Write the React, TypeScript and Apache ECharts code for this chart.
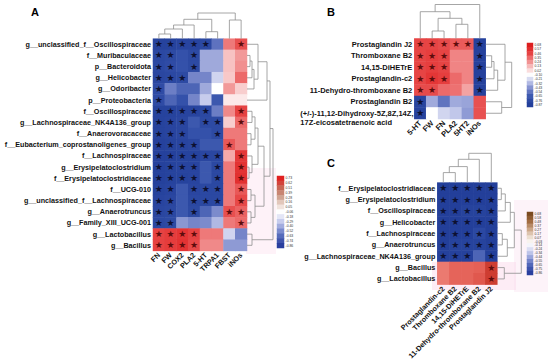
import React, { useEffect, useRef } from 'react';
import * as echarts from 'echarts';

const FONT = 'Liberation Sans, Arial, sans-serif';

// ---------- Panel A ----------
const aRows = [
  'g__unclassified_f__Oscillospiraceae', 'f__Muribaculaceae', 'p__Bacteroidota', 'g__Helicobacter',
  'g__Odoribacter', 'p__Proteobacteria', 'f__Oscillospiraceae', 'g__Lachnospiraceae_NK4A136_group',
  'f__Anaerovoracaceae', 'f__Eubacterium_coprostanoligenes_group', 'f__Lachnospiraceae',
  'g__Erysipelatoclostridium', 'f__Erysipelatoclostridiaceae', 'f__UCG-010',
  'g__unclassified_f__Lachnospiraceae', 'g__Anaerotruncus', 'g__Family_XIII_UCG-001',
  'g__Lactobacillus', 'g__Bacillus',
];
const aCols = ['FN', 'FW', 'COX2', 'PLA2', '5-HT', 'TRPA1', 'FBST', 'iNOs'];
const aValues = [
  [-0.82, -0.82, -0.80, -0.80, -0.76, -0.50, 0.45, 0.58],
  [-0.76, -0.74, -0.66, -0.74, -0.30, -0.30, 0.22, 0.35],
  [-0.76, -0.72, -0.66, -0.74, -0.30, -0.30, 0.22, 0.38],
  [-0.78, -0.76, -0.74, -0.42, -0.42, -0.15, 0.20, 0.50],
  [-0.72, -0.45, -0.56, -0.56, -0.30, 0.00, 0.35, 0.18],
  [-0.72, -0.56, -0.66, -0.42, -0.18, -0.62, 0.08, 0.08],
  [-0.82, -0.82, -0.80, -0.80, -0.76, -0.45, 0.40, 0.62],
  [-0.82, -0.80, -0.78, -0.62, -0.74, -0.74, 0.18, 0.50],
  [-0.82, -0.80, -0.78, -0.66, -0.66, -0.74, 0.45, 0.45],
  [-0.84, -0.82, -0.80, -0.78, -0.62, -0.62, 0.55, 0.45],
  [-0.84, -0.84, -0.82, -0.82, -0.78, -0.78, 0.30, 0.66],
  [-0.84, -0.82, -0.80, -0.80, -0.62, -0.76, 0.45, 0.70],
  [-0.84, -0.82, -0.82, -0.80, -0.62, -0.76, 0.45, 0.72],
  [-0.82, -0.80, -0.62, -0.78, -0.76, -0.76, 0.45, 0.55],
  [-0.80, -0.78, -0.62, -0.76, -0.76, -0.76, 0.45, 0.60],
  [-0.78, -0.76, -0.62, -0.74, -0.56, -0.40, 0.58, 0.52],
  [-0.76, -0.74, -0.36, -0.42, -0.40, -0.25, 0.45, 0.50],
  [0.62, 0.64, 0.68, 0.62, 0.45, 0.45, -0.15, -0.42],
  [0.62, 0.64, 0.70, 0.60, 0.40, 0.40, -0.35, -0.35],
];
const aStars = [
  '11111001', '11010000', '11010000', '11100000', '10000000', '10000000', '11111001',
  '11101101', '11100100', '11110010', '11111101', '11110101', '11110101', '11011101',
  '11011101', '11010011', '11000001', '11110000', '11110000',
];
// merges: [left node, right node, height]
const aRowMerges = [
  [1, 2, 3], [19, 3, 5], [20, 4, 7], [0, 21, 11], [22, 5, 20],
  [6, 7, 5], [8, 9, 4], [24, 25, 8], [11, 12, 2], [10, 27, 5], [26, 28, 11],
  [13, 14, 4], [15, 16, 4], [30, 31, 8], [29, 32, 17], [23, 33, 23], [17, 18, 5], [34, 35, 26],
];
const aColMerges = [[0, 1, 4.7], [8, 2, 9.7], [9, 3, 13.7], [4, 5, 7], [10, 11, 19.4], [6, 7, 18.7], [12, 13, 25.7]];
const aBarLabels = ['0.73', '0.62', '0.51', '0.39', '0.28', '0.16', '0.05', '-0.06', '-0.18', '-0.29', '-0.40', '-0.52', '-0.63', '-0.74', '-0.86'];

// ---------- Panel B ----------
const bRows = [
  'Prostaglandin J2', 'Thromboxane B2', '14,15-DiHETrE', 'Prostaglandin-c2',
  '11-Dehydro-thromboxane B2', 'Prostaglandin B2',
  '(+/-)-11,12-Dihydroxy-5Z,8Z,14Z,17Z-eicosatetraenoic acid',
];
const bCols = ['5-HT', 'FW', 'FN', 'PLA2', '5HT2', 'iNOs'];
const bValues = [
  [0.62, 0.62, 0.60, 0.55, 0.55, -0.85],
  [0.62, 0.64, 0.62, 0.42, 0.42, -0.85],
  [0.62, 0.64, 0.62, 0.42, 0.42, -0.85],
  [0.62, 0.68, 0.64, 0.50, 0.42, -0.85],
  [0.60, 0.60, 0.50, 0.48, 0.32, -0.85],
  [-0.80, -0.30, -0.50, -0.30, -0.32, 0.58],
  [-0.82, 0.00, -0.15, -0.20, -0.35, 0.58],
];
const bStars = ['111111', '111001', '111001', '111001', '110001', '100000', '100000'];
const bRowMerges = [[1, 2, 6], [7, 3, 8.3], [8, 4, 12], [0, 9, 19.3], [5, 6, 16], [10, 11, 26]];
const bColMerges = [[1, 2, 7.5], [3, 4, 14.2], [6, 7, 20.2], [0, 8, 26.8], [9, 5, 34]];
const bBarLabels = ['0.68', '0.57', '0.46', '0.35', '0.24', '0.13', '0.02', '-0.10', '-0.21', '-0.32', '-0.43', '-0.54', '-0.65', '-0.76', '-0.87'];

// ---------- Panel C ----------
const cRows = [
  'f__Erysipelatoclostridiaceae', 'g__Erysipelatoclostridium', 'f__Oscillospiraceae', 'g__Helicobacter',
  'f__Lachnospiraceae', 'g__Anaerotruncus', 'g__Lachnospiraceae_NK4A136_group', 'g__Bacillus', 'g__Lactobacillus',
];
const cCols = ['Prostaglandin-c2', 'Thromboxane B2', '14,15-DiHETrE', '11-Dehydro-thromboxane B2', 'Prostaglandin J2'];
const cValues = [
  [-0.86, -0.86, -0.86, -0.86, -0.86],
  [-0.86, -0.86, -0.86, -0.86, -0.86],
  [-0.86, -0.86, -0.82, -0.82, -0.86],
  [-0.86, -0.86, -0.86, -0.86, -0.86],
  [-0.86, -0.86, -0.86, -0.76, -0.86],
  [-0.86, -0.82, -0.82, -0.82, -0.86],
  [-0.84, -0.84, -0.84, -0.56, -0.86],
  [0.50, 0.60, 0.60, 0.62, 0.84],
  [0.50, 0.60, 0.60, 0.66, 0.84],
];
const cStars = ['11111', '11111', '11111', '11111', '11111', '11111', '11101', '00001', '00001'];
const cRowMerges = [[0, 1, 4], [9, 2, 8], [10, 3, 13], [4, 5, 5], [12, 6, 10], [11, 13, 17], [7, 8, 7], [14, 15, 24]];
const cColMerges = [[0, 1, 10], [5, 2, 16], [6, 3, 23.3], [7, 4, 29.3]];
const cBarLabels = ['0.68', '0.58', '0.48', '0.37', '0.27', '0.17', '0.07', '-0.03', '-0.14', '-0.24', '-0.34', '-0.44', '-0.55', '-0.65', '-0.75', '-0.86'];

// ---------- palettes ----------
const palRB = ['#233f9a', '#3552ab', '#7282c8', '#bcc2e8', '#ffffff', '#f7c4c4', '#ef7f7f', '#e53a3a', '#dc1e1e'];
const palC = ['#233f9a', '#3552ab', '#7282c8', '#bcc2e8', '#ffffff', '#f8c8c0', '#f08a80', '#e25a50', '#cc3a2e'];
const palBarA = ['#2a3f9e', '#4c62b6', '#8d9ad6', '#d0d4f0', '#ffffff', '#e6cfc4', '#c89480', '#c86050', '#e02020'];
const palBarC = ['#2a3f9e', '#4c62b6', '#8d9ad6', '#d0d4f0', '#ffffff', '#e8d8c8', '#c8a080', '#a06a40', '#7a4a20'];

function dendro(n: number, merges: number[][], horizontal: boolean) {
  const pos: number[] = [];
  const h: number[] = [];
  for (let i = 0; i < n; i++) { pos[i] = i + 0.5; h[i] = 0; }
  const segs: number[][][] = [];
  merges.forEach(([a, b, ht], k) => {
    const pts = [[pos[a], h[a]], [pos[a], ht], [pos[b], ht], [pos[b], h[b]]];
    segs.push(horizontal ? pts.map(([p, q]) => [q, p]) : pts);
    pos[n + k] = (pos[a] + pos[b]) / 2;
    h[n + k] = ht;
  });
  return segs.map((s) => ({ coords: s }));
}

function heatData(vals: number[][], stars: string[]) {
  const out: any[] = [];
  vals.forEach((row, r) => row.forEach((v, c) => {
    out.push({ value: [c, r, v], star: stars[r][c] === '1', label: { color: v > 0 ? '#5e0c0c' : '#0d1030' } });
  }));
  return out;
}

const labelBase = { fontSize: 7.2, fontWeight: 'bold' as const, color: '#111', fontFamily: FONT };

function catX(grid: number, data: string[], fs = 7.2) {
  return {
    gridIndex: grid, type: 'category', data,
    axisLine: { show: false }, axisTick: { show: false }, splitLine: { show: false },
    axisLabel: { ...labelBase, fontSize: fs, rotate: 45, interval: 0, margin: 3 },
  };
}
function catY(grid: number, data: string[], fs = 7.2, extra: any = {}) {
  return {
    gridIndex: grid, type: 'category', data, inverse: true,
    axisLine: { show: false }, axisTick: { show: false }, splitLine: { show: false },
    axisLabel: { ...labelBase, fontSize: fs, interval: 0, margin: 2, ...extra },
  };
}
function barY(grid: number, data: string[]) {
  return {
    gridIndex: grid, type: 'category', data, inverse: true, position: 'right',
    axisLine: { show: false }, axisTick: { show: false },
    axisLabel: { fontSize: 3.4, color: '#333', interval: 0, margin: 1.5, fontFamily: FONT },
  };
}
function hiddenCat(grid: number) {
  return { gridIndex: grid, type: 'category', data: [''], show: false };
}
function valAx(grid: number, min: number, max: number, inverse = false) {
  return { gridIndex: grid, type: 'value', min, max, inverse, show: false };
}

export default function App() {
  const ref = useRef<HTMLDivElement>(null);
  useEffect(() => {
    if (!ref.current) return;
    const chart = echarts.init(ref.current, undefined, { renderer: 'svg' });
    const starLabel = {
      show: true, fontSize: 9, fontFamily: 'DejaVu Sans',
      formatter: (p: any) => (p.data && p.data.star ? '\u2605' : ''),
    };
    const dendStyle = { color: '#8f8f8f', width: 0.8, opacity: 1 };
    const grids = [
      { left: 153, top: 38.7, width: 94, height: 212.2 },      // 0 heat A
      { left: 414.3, top: 38.5, width: 71.4, height: 80.5 },   // 1 heat B
      { left: 437.3, top: 182.6, width: 60, height: 102 },     // 2 heat C
      { left: 277, top: 176, width: 7, height: 72 },           // 3 bar A
      { left: 527, top: 43, width: 6, height: 64 },            // 4 bar B
      { left: 527, top: 212, width: 6, height: 63 },           // 5 bar C
      { left: 153, top: 12, width: 94, height: 26.7 },         // 6 col dend A
      { left: 247, top: 38.7, width: 27, height: 212.2 },      // 7 row dend A
      { left: 414.3, top: 4, width: 71.4, height: 34.5 },      // 8 col dend B
      { left: 485.7, top: 38.5, width: 27, height: 80.5 },     // 9 row dend B
      { left: 437.3, top: 152, width: 60, height: 30.6 },      // 10 col dend C
      { left: 497.3, top: 182.6, width: 26, height: 102 },     // 11 row dend C
    ];
    const longLabel = (v: string) => {
      if (v.startsWith('(+/-)')) {
        const i = v.indexOf('17Z');
        return `{l| }\n{l|${v.slice(0, i)}}\n{l|${v.slice(i)}}`;
      }
      return v;
    };
    const option: any = {
      animation: false,
      backgroundColor: '#ffffff',
      grid: grids,
      xAxis: [
        catX(0, aCols), catX(1, bCols, 7.5), catX(2, cCols),
        hiddenCat(3), hiddenCat(4), hiddenCat(5),
        valAx(6, 0, 8), valAx(7, 0, 27), valAx(8, 0, 6), valAx(9, 0, 27), valAx(10, 0, 5), valAx(11, 0, 26),
      ],
      yAxis: [
        catY(0, aRows), catY(1, bRows, 7.5, {
          formatter: longLabel,
          rich: { l: { width: 112, align: 'left', fontSize: 7.5, fontWeight: 'bold', lineHeight: 9, color: '#111', fontFamily: FONT } },
        }), catY(2, cRows),
        barY(3, aBarLabels), barY(4, bBarLabels), barY(5, cBarLabels),
        valAx(6, 0, 26.7), valAx(7, 0, 19, true), valAx(8, 0, 34.5), valAx(9, 0, 7, true), valAx(10, 0, 30.6), valAx(11, 0, 9, true),
      ],
      visualMap: [
        { show: false, seriesIndex: 0, dimension: 2, min: -0.86, max: 0.86, inRange: { color: palRB } },
        { show: false, seriesIndex: 1, dimension: 2, min: -0.87, max: 0.87, inRange: { color: palRB } },
        { show: false, seriesIndex: 2, dimension: 2, min: -0.86, max: 0.86, inRange: { color: palC } },
        { show: false, seriesIndex: 3, dimension: 2, min: -0.86, max: 0.73, inRange: { color: palBarA } },
        { show: false, seriesIndex: 4, dimension: 2, min: -0.87, max: 0.68, inRange: { color: palRB } },
        { show: false, seriesIndex: 5, dimension: 2, min: -0.86, max: 0.68, inRange: { color: palBarC } },
      ],
      series: [
        { type: 'heatmap', xAxisIndex: 0, yAxisIndex: 0, data: heatData(aValues, aStars), label: starLabel },
        { type: 'heatmap', xAxisIndex: 1, yAxisIndex: 1, data: heatData(bValues, bStars), label: starLabel },
        { type: 'heatmap', xAxisIndex: 2, yAxisIndex: 2, data: heatData(cValues, cStars), label: starLabel },
        { type: 'heatmap', xAxisIndex: 3, yAxisIndex: 3, data: aBarLabels.map((l, i) => [0, i, parseFloat(l)]) },
        { type: 'heatmap', xAxisIndex: 4, yAxisIndex: 4, data: bBarLabels.map((l, i) => [0, i, parseFloat(l)]) },
        { type: 'heatmap', xAxisIndex: 5, yAxisIndex: 5, data: cBarLabels.map((l, i) => [0, i, parseFloat(l)]) },
        { type: 'lines', coordinateSystem: 'cartesian2d', xAxisIndex: 6, yAxisIndex: 6, polyline: true, silent: true, lineStyle: dendStyle, data: dendro(aCols.length, aColMerges, false) },
        { type: 'lines', coordinateSystem: 'cartesian2d', xAxisIndex: 7, yAxisIndex: 7, polyline: true, silent: true, lineStyle: dendStyle, data: dendro(aRows.length, aRowMerges, true) },
        { type: 'lines', coordinateSystem: 'cartesian2d', xAxisIndex: 8, yAxisIndex: 8, polyline: true, silent: true, lineStyle: dendStyle, data: dendro(bCols.length, bColMerges, false) },
        { type: 'lines', coordinateSystem: 'cartesian2d', xAxisIndex: 9, yAxisIndex: 9, polyline: true, silent: true, lineStyle: dendStyle, data: dendro(bRows.length, bRowMerges, true) },
        { type: 'lines', coordinateSystem: 'cartesian2d', xAxisIndex: 10, yAxisIndex: 10, polyline: true, silent: true, lineStyle: dendStyle, data: dendro(cCols.length, cColMerges, false) },
        { type: 'lines', coordinateSystem: 'cartesian2d', xAxisIndex: 11, yAxisIndex: 11, polyline: true, silent: true, lineStyle: dendStyle, data: dendro(cRows.length, cRowMerges, true) },
      ],
      graphic: [
        { type: 'rect', z: -10, shape: { x: 246, y: 168, width: 30, height: 86 }, style: { fill: 'rgba(250,205,228,0.25)' } },
        { type: 'rect', z: -10, shape: { x: 432, y: 262, width: 84, height: 28 }, style: { fill: 'rgba(250,200,225,0.35)' } },
        { type: 'rect', z: -10, shape: { x: 514, y: 200, width: 34, height: 92 }, style: { fill: 'rgba(250,215,235,0.3)' } },
        { type: 'text', left: 31, top: 6, style: { text: 'A', font: `bold 11px ${FONT}`, fill: '#000' } },
        { type: 'text', left: 327, top: 6, style: { text: 'B', font: `bold 11px ${FONT}`, fill: '#000' } },
        { type: 'text', left: 327, top: 157, style: { text: 'C', font: `bold 11px ${FONT}`, fill: '#000' } },
      ],
    };
    chart.setOption(option);
    return () => chart.dispose();
  }, []);
  return <div ref={ref} style={{ position: 'fixed', left: 0, top: 0, width: 550, height: 362 }} />;
}
